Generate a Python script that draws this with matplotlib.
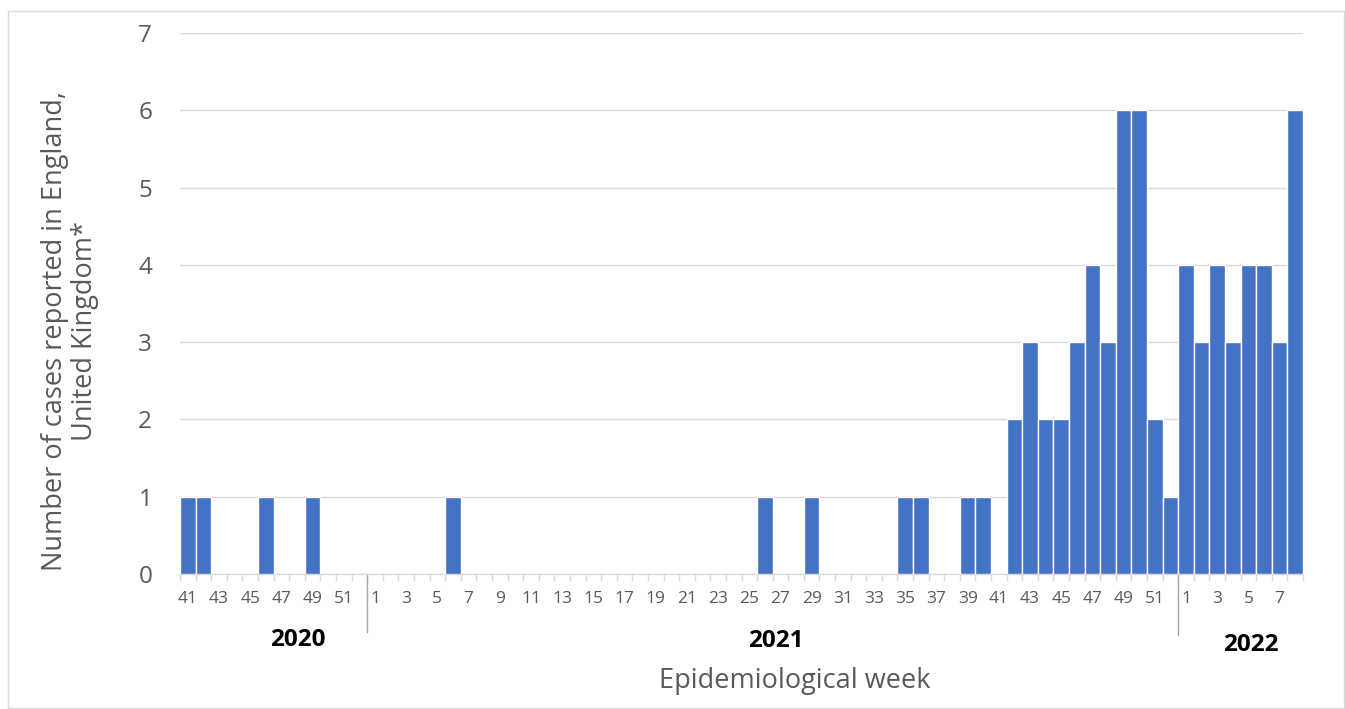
import matplotlib
matplotlib.use("Agg")
import matplotlib.pyplot as plt
from matplotlib.patches import Rectangle
from matplotlib.ticker import FixedLocator
import numpy as np

plt.rcParams['font.family'] = ['Open Sans', 'DejaVu Sans']

weeks_2020 = list(range(41, 53))
cases_2020 = [1, 1, 0, 0, 0, 1, 0, 0, 1, 0, 0, 0]
weeks_2021 = list(range(1, 53))
cases_2021 = [0, 0, 0, 0, 0, 1, 0, 0, 0, 0,
              0, 0, 0, 0, 0, 0, 0, 0, 0, 0,
              0, 0, 0, 0, 0, 1, 0, 0, 1, 0,
              0, 0, 0, 0, 1, 1, 0, 0, 1, 1,
              0, 2, 3, 2, 2, 3, 4, 3, 6, 6,
              2, 1]
weeks_2022 = list(range(1, 9))
cases_2022 = [4, 3, 4, 3, 4, 4, 3, 6]
years = ["2020", "2021", "2022"]

weeks = weeks_2020 + weeks_2021 + weeks_2022
cases = cases_2020 + cases_2021 + cases_2022
x = np.arange(len(weeks))

W, H = 1345, 709
fig = plt.figure(figsize=(W / 100, H / 100), dpi=100)
ax = fig.add_axes([180 / W, 1 - 574 / H, (1303 - 180) / W, (574 - 33) / H])

ax.bar(x, cases, width=1.0, color='#4472C4', edgecolor='white', linewidth=1.0, zorder=3)

ax.set_xlim(-0.5, len(weeks) - 0.5)
ax.set_ylim(0, 7)
ax.set_yticks(range(0, 8))
ax.grid(axis='y', color='#d9d9d9', linewidth=1, zorder=0)
for s in ['top', 'right', 'left']:
    ax.spines[s].set_visible(False)
ax.spines['bottom'].set_color('#d9d9d9')
ax.spines['bottom'].set_linewidth(1)

ax.tick_params(axis='y', length=0, labelsize=17.5, labelcolor='#595959', pad=20)

lab_idx = x[::2]
ax.set_xticks(lab_idx)
ax.set_xticklabels([str(weeks[i]) for i in lab_idx])
ax.tick_params(axis='x', which='major', length=0, labelsize=12.5, labelcolor='#595959', pad=12)
ax.xaxis.set_minor_locator(FixedLocator(np.arange(-0.5, len(weeks), 1.0)))
ax.tick_params(axis='x', which='minor', length=5, color='#d9d9d9', width=1)

# year separators
b1 = len(weeks_2020) - 0.5
b2 = len(weeks_2020) + len(weeks_2021) - 0.5
trans = ax.get_xaxis_transform()
ax.plot([b1, b1], [0, -0.107], transform=trans, color='#a6a6a6', lw=1, clip_on=False)
ax.plot([b2, b2], [0, -0.113], transform=trans, color='#a6a6a6', lw=1, clip_on=False)

def px2data(px):
    return (px - 180) / ((1303 - 180) / len(weeks)) - 0.5

ax.text(px2data(298), -0.122, years[0], transform=trans, ha='center', va='center',
        fontsize=17.5, fontweight='bold', color='black')
ax.text(px2data(776), -0.124, years[1], transform=trans, ha='center', va='center',
        fontsize=17.5, fontweight='bold', color='black')
ax.text(px2data(1251), -0.131, years[2], transform=trans, ha='center', va='center',
        fontsize=17.5, fontweight='bold', color='black')

fig.text(795 / W, 1 - 681 / H, 'Epidemiological week', ha='center', va='center',
         fontsize=19.5, color='#595959')
fig.text(70 / W, 1 - 331 / H, 'Number of cases reported in England,\nUnited Kingdom*',
         ha='center', va='center', rotation=90, fontsize=19.5, color='#595959',
         multialignment='center', linespacing=1.05)

fig.patches.append(Rectangle((8 / W, 1 - 708 / H), (1344 - 8) / W, (708 - 11) / H,
                             transform=fig.transFigure, fill=False,
                             edgecolor='#d9d9d9', linewidth=1))

fig.savefig('out.png', dpi=100)
